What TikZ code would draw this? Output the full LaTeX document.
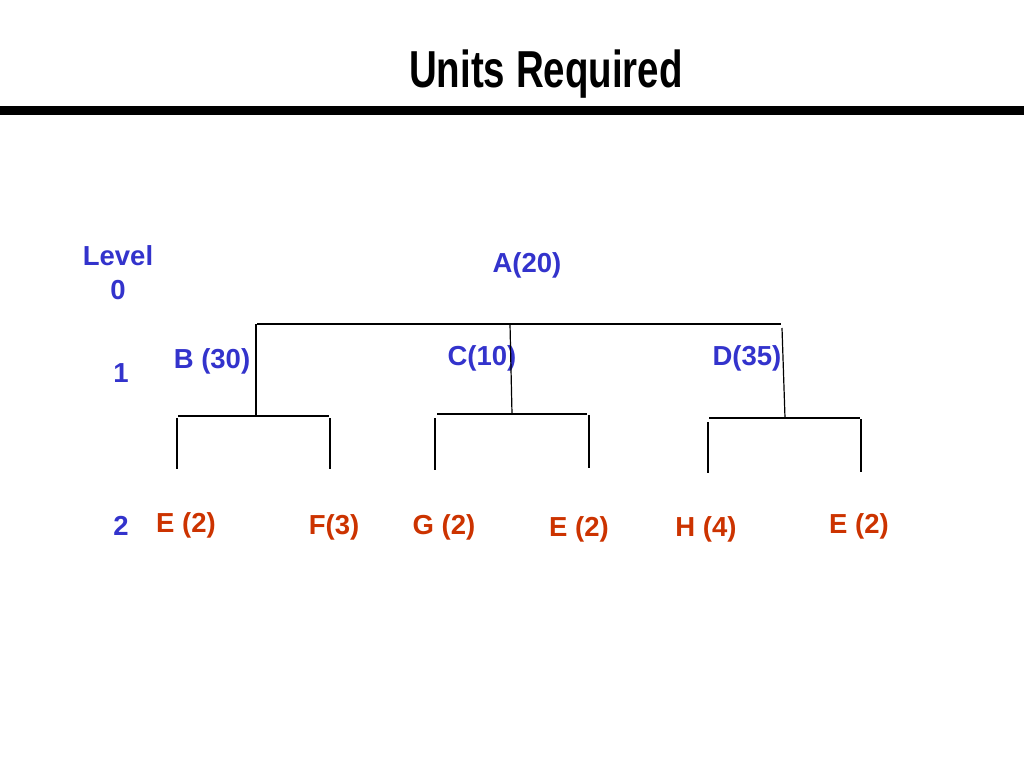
\documentclass[tikz,border=0pt]{standalone}
\usepackage{fontspec}
\setmainfont{Liberation Sans}
\definecolor{lvlblue}{RGB}{51,51,204}
\definecolor{partred}{RGB}{204,51,0}
\begin{document}
\begin{tikzpicture}[x=1pt, y=-1pt]

\tikzstyle{every node} = [inner sep=0pt, font=\fontsize{27.5}{34}\selectfont\bfseries]
\tikzstyle{lvl} = [text=lvlblue, align=center]
\tikzstyle{part} = [text=partred]
\tikzstyle{link} = [draw, line width=1.2pt]

\useasboundingbox (0,0) rectangle (1024,768);

\node (title) at (546,74) {\fontsize{52}{60}\selectfont\scalebox{0.74}[1]{Units Required}};
\coordinate (rule-l) at (0,110.5);
\coordinate (rule-r) at (1024,110.5);
\draw[line width=9pt] (rule-l) -- (rule-r);

\node[lvl] (l0) at (118,273) {Level\\0};
\node[lvl] (l1) at (121,373) {1};
\node[lvl] (l2) at (121,526) {2};

\node[lvl] (a) at (527,265) {A(20)};
\node[lvl] (b) at (212,361) {B (30)};
\node[lvl] (c) at (482,358) {C(10)};
\node[lvl] (d) at (747,358) {D(35)};

\node[part] (e1) at (186,525) {E (2)};
\node[part] (f)  at (334,527) {F(3)};
\node[part] (g)  at (444,527) {G (2)};
\node[part] (e2) at (579,529) {E (2)};
\node[part] (h)  at (706,529) {H (4)};
\node[part] (e3) at (859,526) {E (2)};

\coordinate (a-l) at (257,324);
\coordinate (a-c) at (510,324);
\coordinate (a-r) at (781,324);
\coordinate (b-t) at (256,324);
\coordinate (b-j) at (256,415);
\coordinate (b-l) at (178,416);
\coordinate (b-r) at (329,416);
\coordinate (c-j) at (512,414);
\coordinate (c-l) at (437,414);
\coordinate (c-r) at (587,414);
\coordinate (d-t) at (782,328);
\coordinate (d-j) at (785,418);
\coordinate (d-l) at (709,418);
\coordinate (d-r) at (860,418);
\coordinate (e1-t) at (177,418);
\coordinate (e1-b) at (177,469);
\coordinate (f-t) at (330,418);
\coordinate (f-b) at (330,469);
\coordinate (g-t) at (435,418);
\coordinate (g-b) at (435,470);
\coordinate (e2-t) at (589,415);
\coordinate (e2-b) at (589,468);
\coordinate (h-t) at (708,422);
\coordinate (h-b) at (708,473);
\coordinate (e3-t) at (861,419);
\coordinate (e3-b) at (861,472);

\draw[link] (a-l) -- (a-r);
\draw[link] (b-t) -- (b-j);
\draw[link] (a-c) -- (c-j);
\draw[link] (d-t) -- (d-j);
\draw[link] (b-l) -- (b-r);
\draw[link] (c-l) -- (c-r);
\draw[link] (d-l) -- (d-r);
\draw[link] (e1-t) -- (e1-b);
\draw[link] (f-t) -- (f-b);
\draw[link] (g-t) -- (g-b);
\draw[link] (e2-t) -- (e2-b);
\draw[link] (h-t) -- (h-b);
\draw[link] (e3-t) -- (e3-b);
\end{tikzpicture}
\end{document}
